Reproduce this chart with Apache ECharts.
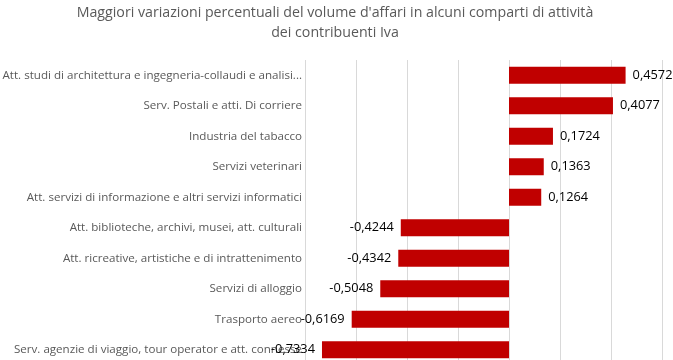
<!DOCTYPE html>
<html><head><meta charset="utf-8">
<script src="https://cdn.jsdelivr.net/npm/echarts@6/dist/echarts.min.js"></script>
<style>html,body{margin:0;padding:0;background:#fff}#c{width:673px;height:360px}</style>
</head><body><div id="c"></div>
<script>
const categories = [
  "Att. studi di architettura e ingegneria-collaudi e analisi...",
  "Serv. Postali e atti. Di corriere",
  "Industria del tabacco",
  "Servizi veterinari",
  "Att. servizi di informazione e altri servizi informatici",
  "Att. biblioteche, archivi, musei, att. culturali",
  "Att. ricreative, artistiche e di intrattenimento",
  "Servizi di alloggio",
  "Trasporto aereo",
  "Serv. agenzie di viaggio, tour operator e att. connesse"
];
const values = [0.4572, 0.4077, 0.1724, 0.1363, 0.1264, -0.4244, -0.4342, -0.5048, -0.6169, -0.7334];
const titleText = "Maggiori variazioni percentuali del volume d'affari in alcuni comparti di attività\ndei contribuenti Iva";

const chart = echarts.init(document.getElementById('c'));
const fmt = v => String(v).replace('.', ',');
chart.setOption({
  animation: false,
  title: {
    text: titleText, left: 335, textAlign: 'center', top: 3, padding: 0,
    textStyle: {fontFamily: 'Open Sans', fontSize: 14.2, fontWeight: 'normal', color: '#595959', lineHeight: 20}
  },
  grid: {left: 305, top: 60, width: 408, height: 305, containLabel: false, outerBoundsMode: 'none'},
  xAxis: {
    type: 'value', min: -0.8, max: 0.8, interval: 0.2,
    axisLabel: {show: false}, axisLine: {show: false}, axisTick: {show: false},
    splitLine: {lineStyle: {color: '#d9d9d9', width: 1}}
  },
  yAxis: {
    type: 'category', data: categories, inverse: true,
    axisLine: {show: false}, axisTick: {show: false},
    axisLabel: {margin: 3, fontFamily: 'Open Sans', fontSize: 11.6, color: '#595959'}
  },
  series: [{
    type: 'bar', barWidth: 17,
    itemStyle: {color: '#c00000'},
    data: values.map(v => ({
      value: v,
      label: {show: true, position: v >= 0 ? 'right' : 'left', distance: 7,
        formatter: p => fmt(p.value),
        fontFamily: 'Open Sans', fontSize: 12.8, color: '#000'}
    }))
  }]
});
</script></body></html>
